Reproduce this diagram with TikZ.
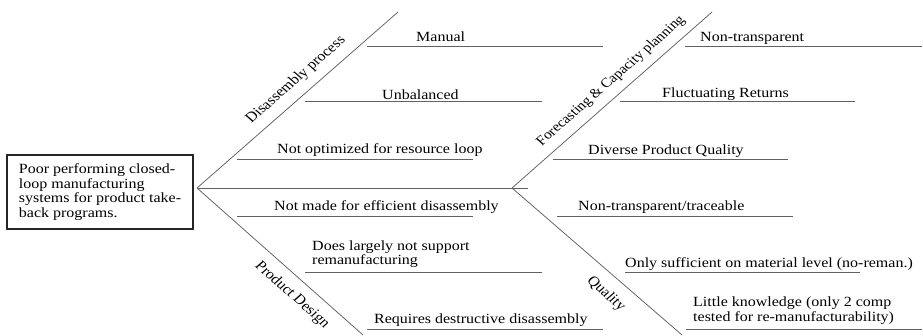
\documentclass[tikz,border=0pt]{standalone}
\usepackage{fontspec}
\setmainfont{Liberation Serif}
\begin{document}
\begin{tikzpicture}[x=1pt, y=-1.140251pt, yscale=0.877,
  every node/.style={transform shape, inner sep=0pt, font=\fontsize{16}{16.3}\selectfont},
  ln/.style={draw=black!62, line width=0.75pt},
  cause/.style={anchor=base west},
  causetwo/.style={anchor=north west, align=left},
  catlabel/.style={anchor=center}]
\path[fill=white] (0,0) rectangle (923,335);
\useasboundingbox (0,0) rectangle (923,335);

% problem box
\node[draw=black!85, line width=1.3pt, minimum width=186pt, minimum height=84.4pt, align=left,
  font=\fontsize{16}{16.6}\selectfont]
  (prob) at (100,192) {Poor performing closed-\\loop manufacturing\\systems for product take-\\back programs.};

% skeleton
\coordinate (A1) at (197,188);
\coordinate (A2) at (512,188);
\coordinate (SE) at (528,188);
\coordinate (T1) at (398,12);
\coordinate (B1) at (363,335);
\coordinate (T2) at (712,12);
\coordinate (B2) at (682,335);
\draw[ln] (A1) -- (SE);
\draw[ln] (A1) -- (T1);
\draw[ln] (A1) -- (B1);
\draw[ln] (A2) -- (T2);
\draw[ln] (A2) -- (B2);

% cause lines
\coordinate (m1) at (367,46);  \coordinate (m2) at (603,46);
\coordinate (u1) at (305,101); \coordinate (u2) at (542,101);
\coordinate (o1) at (237,159); \coordinate (o2) at (473,159);
\coordinate (e1) at (237,216); \coordinate (e2) at (473,216);
\coordinate (s1) at (305,272); \coordinate (s2) at (542,272);
\coordinate (r1) at (367,329); \coordinate (r2) at (603,329);
\coordinate (n1) at (685,46);  \coordinate (n2) at (922,46);
\coordinate (f1) at (620,101); \coordinate (f2) at (855,101);
\coordinate (d1) at (553,159); \coordinate (d2) at (788,159);
\coordinate (t1) at (557,216); \coordinate (t2) at (793,216);
\coordinate (q1) at (625,272); \coordinate (q2) at (860,272);
\coordinate (k1) at (686,329); \coordinate (k2) at (922,329);
\foreach \a in {m,u,o,e,s,r,n,f,d,t,q,k} \draw[ln] (\a1) -- (\a2);

% cause texts
\node[cause] (tManual) at (416,41) {Manual};
\node[cause] (tUnb) at (382,99) {Unbalanced};
\node[cause] (tNotOpt) at (277,153) {Not optimized for resource loop};
\node[cause] (tNotMade) at (274,210) {Not made for efficient disassembly};
\node[causetwo] (tDoes) at (312,240.5) {Does largely not support\\remanufacturing};
\node[cause] (tReq) at (374,323) {Requires destructive disassembly};
\node[cause] (tNonT) at (700,41) {Non-transparent};
\node[cause] (tFluct) at (662,97) {Fluctuating Returns};
\node[cause] (tDiv) at (588,154) {Diverse Product Quality};
\node[cause] (tNTT) at (578,210) {Non-transparent/traceable};
\node[cause] (tOnly) at (625,267) {Only sufficient on material level (no-reman.)};
\node[causetwo] (tLittle) at (693,297) {Little knowledge (only 2 comp\\tested for re-manufacturability)};

% category labels
\node[catlabel, rotate=45] (cDis) at (296,80) {Disassembly process};
\node[catlabel, rotate=45, font=\fontsize{15.3}{16}\selectfont] (cFor) at (611,81) {Forecasting \& Capacity planning};
\node[catlabel, rotate=-45] (cPD) at (292,295) {Product Design};
\node[catlabel, rotate=-45] (cQ) at (606,294) {Quality};
\end{tikzpicture}
\end{document}
